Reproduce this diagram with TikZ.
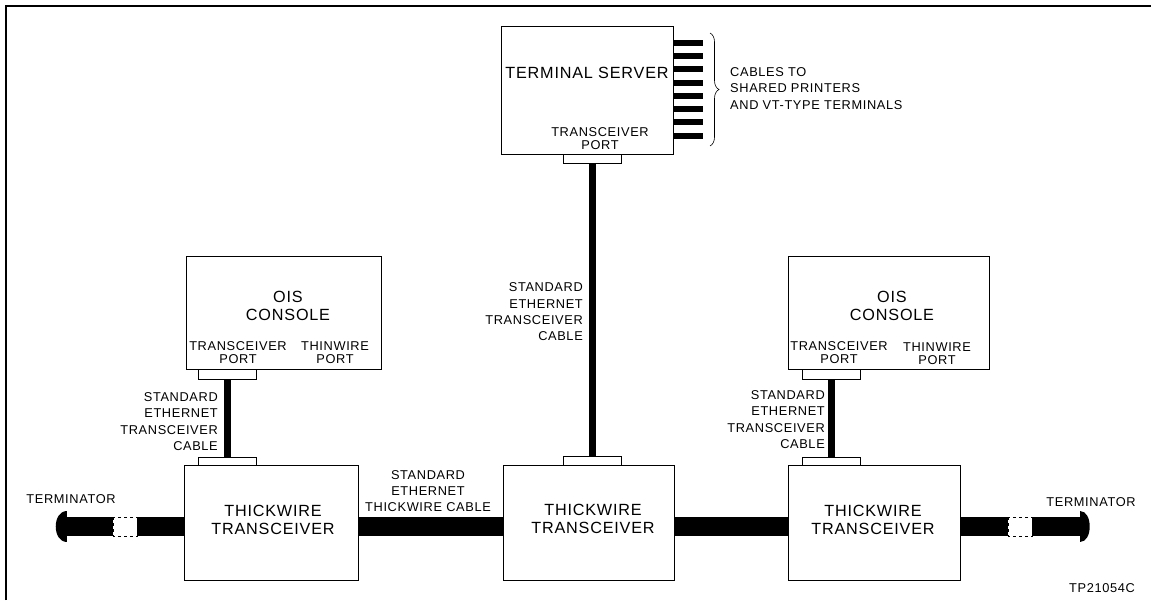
\documentclass[tikz,border=0pt]{standalone}
\usepackage{fontspec}
\setmainfont{Liberation Sans}[LetterSpace=5]
\usetikzlibrary{decorations.pathreplacing}

\tikzset{
  box/.style={draw, line width=0.8pt, inner sep=0pt},
  porta/.style={draw, line width=0.8pt, fill=white, minimum width=58pt, minimum height=9pt, inner sep=0pt},
  cavo/.style={line width=7pt},
  trunk/.style={line width=19pt},
  piccolo/.style={font=\fontsize{12.8}{16.3}\selectfont, align=center, inner sep=0pt},
  portlab/.style={font=\fontsize{12.8}{13}\selectfont, align=center, inner sep=0pt},
  grande/.style={font=\fontsize{16.2}{18}\selectfont, align=center, inner sep=0pt},
}

\begin{document}
\begin{tikzpicture}[x=1pt,y=-1pt]
    \useasboundingbox (0,0) rectangle (1151,600);
    %cornice
    \draw[line width=1.2pt] (6,600) -- (6,6) -- (1151,6);
    %disegno box
    \node[box, minimum width=172pt, minimum height=128pt] (ts) at (587,90) {};
    \node[box, minimum width=195pt, minimum height=113pt] (oisL) at (283.5,312.5) {};
    \node[box, minimum width=201pt, minimum height=113pt] (oisR) at (888.5,312.5) {};
    \node[box, minimum width=174pt, minimum height=115pt] (twL) at (271,522.5) {};
    \node[box, minimum width=171pt, minimum height=115pt] (twM) at (588.5,522.5) {};
    \node[box, minimum width=172pt, minimum height=115pt] (twR) at (874,522.5) {};
    %disegno porte
    \node[porta] (tsP) at (592.5,158.5) {};
    \node[porta] (twMP) at (592.5,461) {};
    \node[porta, minimum height=10pt] (oisLP) at (227,374) {};
    \node[porta, minimum height=8pt] (twLP) at (227,461) {};
    \node[porta, minimum height=10pt] (oisRP) at (831.5,374) {};
    \node[porta, minimum height=8pt] (twRP) at (831.5,461) {};
    %cavi transceiver
    \draw[cavo] (tsP.south) -- (twMP.north);
    \draw[cavo] (oisLP.south) -- (twLP.north);
    \draw[cavo] (oisRP.south) -- (twRP.north);
    %cavi verso stampanti e terminali
    \foreach \i in {0,...,7}
        \draw[line width=6pt] ([yshift={-17-13.3*\i}]ts.north east) -- ++(30,0);
    \draw[decorate, decoration={brace, amplitude=9pt}, line width=0.6pt] (710,33) -- (710,146);
    %cavo thickwire
    \coordinate (trunkY) at (0,526.5);
    \draw[trunk] (twL.east |- trunkY) -- (twM.west |- trunkY);
    \draw[trunk] (twM.east |- trunkY) -- (twR.west |- trunkY);
    %terminatore sinistro
    \coordinate (gapL) at (137,526.5);
    \coordinate (barL) at (113,526.5);
    \draw[trunk] (twL.west |- trunkY) -- (gapL);
    \draw[dashed, line width=0.6pt] (113,517) rectangle (137,536);
    \draw[trunk] (barL) -- (67,526.5);
    \fill (67,511) .. controls (52,511) and (52,542) .. (67,542) -- cycle;
    %terminatore destro
    \coordinate (gapR) at (1008,526.5);
    \coordinate (barR) at (1032,526.5);
    \draw[trunk] (twR.east |- trunkY) -- (gapR);
    \draw[dashed, line width=0.6pt] (1008,517) rectangle (1032,536);
    \draw[trunk] (barR) -- (1080,526.5);
    \fill (1080,511) .. controls (1093,511) and (1093,542) .. (1080,542) -- cycle;
    %testi box
    \node[grande] (tsT) at (587,73) {TERMINAL SERVER};
    \node[portlab] (tsPT) at (600,139) {TRANSCEIVER\\PORT};
    \node[grande] (oisLT) at (288,306) {OIS\\CONSOLE};
    \node[portlab] (oisLPT) at (238,353) {TRANSCEIVER\\PORT};
    \node[portlab] (oisLTW) at (335,353) {THINWIRE\\PORT};
    \node[grande] (oisRT) at (892,306) {OIS\\CONSOLE};
    \node[portlab] (oisRPT) at (839,353) {TRANSCEIVER\\PORT};
    \node[portlab] (oisRTW) at (937,354) {THINWIRE\\PORT};
    \node[grande] (twLT) at (273,520) {THICKWIRE\\TRANSCEIVER};
    \node[grande] (twMT) at (593,519) {THICKWIRE\\TRANSCEIVER};
    \node[grande] (twRT) at (873,520) {THICKWIRE\\TRANSCEIVER};
    %label cavi
    \node[piccolo, anchor=west, align=left] (cavT) at (730,88.5) {CABLES TO\\SHARED PRINTERS\\AND VT-TYPE TERMINALS};
    \node[piccolo, anchor=east, align=right] (cLT) at (218,421.5) {STANDARD\\ETHERNET\\TRANSCEIVER\\CABLE};
    \node[piccolo, anchor=east, align=right] (cMT) at (583,312) {STANDARD\\ETHERNET\\TRANSCEIVER\\CABLE};
    \node[piccolo, anchor=east, align=right] (cRT) at (825,419.5) {STANDARD\\ETHERNET\\TRANSCEIVER\\CABLE};
    \node[piccolo] (trT) at (428,491) {STANDARD\\ETHERNET\\THICKWIRE CABLE};
    \node[piccolo] (termL) at (71,499) {TERMINATOR};
    \node[piccolo] (termR) at (1091,502) {TERMINATOR};
    \node[piccolo] (tpT) at (1102,588) {TP21054C};
\end{tikzpicture}
\end{document}
